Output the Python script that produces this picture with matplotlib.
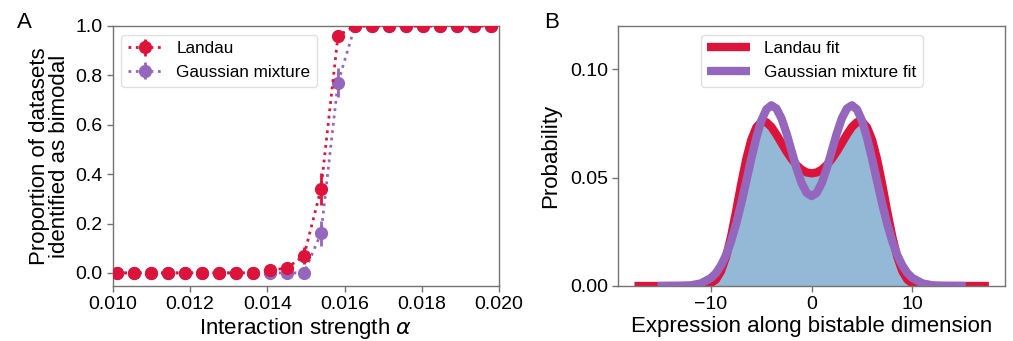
import matplotlib
matplotlib.use("Agg")
import matplotlib.pyplot as plt

plt.rcParams['font.family'] = ['Liberation Sans', 'DejaVu Sans']
plt.rcParams['mathtext.fontset'] = 'dejavusans'

# ---------------- Panel A data ----------------
alpha_vals = [0.01010, 0.01054, 0.01098, 0.01142, 0.01186, 0.01230, 0.01274,
              0.01319, 0.01363, 0.01407, 0.01451, 0.01495, 0.01539, 0.01583,
              0.01627, 0.01671, 0.01715, 0.01759, 0.01803, 0.01847, 0.01891,
              0.01935, 0.01980]
landau_prop = [0, 0, 0, 0, 0, 0, 0, 0, 0, 0.01, 0.02, 0.07, 0.34, 0.96,
               1, 1, 1, 1, 1, 1, 1, 1, 1]
landau_err = [0, 0, 0, 0, 0, 0, 0, 0, 0, 0.01, 0.015, 0.035, 0.065, 0.025,
              0, 0, 0, 0, 0, 0, 0, 0, 0]
gmm_prop = [0, 0, 0, 0, 0, 0, 0, 0, 0, 0, 0, 0, 0.16, 0.77,
            1, 1, 1, 1, 1, 1, 1, 1, 1]
gmm_err = [0, 0, 0, 0, 0, 0, 0, 0, 0, 0, 0, 0, 0.05, 0.058,
           0, 0, 0, 0, 0, 0, 0, 0, 0]

# ---------------- Panel B data ----------------
landau_x = [-17.6, -12, -11, -10, -9.5, -9, -8.5, -8, -7.5, -7, -6.5, -6, -5.5, -5,
            -4.5, -4, -3.5, -3, -2.5, -2, -1.5, -1, -0.5, 0, 0.5, 1, 1.5, 2,
            2.5, 3, 3.5, 4, 4.5, 5, 5.5, 6, 6.5, 7, 7.5, 8, 8.5, 9, 9.5, 10,
            11, 12, 17.6]
landau_fit = [0, 0, 0.0001, 0.0011, 0.0030, 0.0069, 0.0135, 0.0229, 0.0345, 0.0470,
              0.0584, 0.0674, 0.0732, 0.0758, 0.0756, 0.0734, 0.0699, 0.0660,
              0.0621, 0.0587, 0.0558, 0.0537, 0.0524, 0.0520, 0.0524, 0.0537,
              0.0558, 0.0587, 0.0621, 0.0660, 0.0699, 0.0734, 0.0756, 0.0758,
              0.0732, 0.0674, 0.0584, 0.0470, 0.0345, 0.0229, 0.0135, 0.0069,
              0.0030, 0.0011, 0.0001, 0, 0]

gmm_x = [-15.3, -13, -12, -11, -10, -9.5, -9, -8.5, -8, -7.5, -7, -6.5, -6, -5.5,
         -5, -4.5, -4, -3.5, -3, -2.5, -2, -1.5, -1, -0.5, 0, 0.5, 1, 1.5, 2,
         2.5, 3, 3.5, 4, 4.5, 5, 5.5, 6, 6.5, 7, 7.5, 8, 8.5, 9, 9.5, 10, 11,
         12, 13, 15.3]
gmm_fit = [0, 0.0001, 0.0003, 0.0012, 0.0037, 0.0060, 0.0095, 0.0143, 0.0207,
           0.0287, 0.0380, 0.0483, 0.0587, 0.0684, 0.0763, 0.0815, 0.0834,
           0.0819, 0.0774, 0.0705, 0.0624, 0.0543, 0.0475, 0.0430, 0.0415,
           0.0430, 0.0475, 0.0543, 0.0624, 0.0705, 0.0774, 0.0819, 0.0834,
           0.0815, 0.0763, 0.0684, 0.0587, 0.0483, 0.0380, 0.0287, 0.0207,
           0.0143, 0.0095, 0.0060, 0.0037, 0.0012, 0.0003, 0.0001, 0]

hist_x = [-9.6, -9, -8.5, -8, -7.5, -7, -6.5, -6, -5.5, -5, -4.5, -4, -3.5, -3,
          -2.5, -2, -1.5, -1, -0.5, 0, 0.5, 1, 1.5, 2, 2.5, 3, 3.5, 4, 4.5, 5,
          5.5, 6, 6.5, 7, 7.5, 8, 8.5, 9, 9.6]
hist_density = [0, 0.0055, 0.0125, 0.0220, 0.0340, 0.0465, 0.0580, 0.0668,
                0.0722, 0.0745, 0.0745, 0.0725, 0.0690, 0.0652, 0.0612, 0.0578,
                0.0550, 0.0528, 0.0512, 0.0508, 0.0512, 0.0528, 0.0550, 0.0578,
                0.0612, 0.0652, 0.0690, 0.0725, 0.0745, 0.0745, 0.0722, 0.0668,
                0.0580, 0.0465, 0.0340, 0.0220, 0.0125, 0.0055, 0]

RED = '#dc143c'
PURPLE = '#9467bd'
BLUE = '#93b9d6'
SPINE = '0.45'

fig = plt.figure(figsize=(10.13, 3.41), dpi=100)
axA = fig.add_axes([0.1115, 0.1613, 0.381, 0.7625])
axB = fig.add_axes([0.6104, 0.1613, 0.3817, 0.7625])

for ax in (axA, axB):
    for s in ax.spines.values():
        s.set_color(SPINE)
        s.set_linewidth(1.0)
    ax.tick_params(axis='both', colors=SPINE, labelcolor='black',
                   labelsize=14, length=4, width=1)

# Panel A
hg = axA.errorbar(alpha_vals, gmm_prop, yerr=gmm_err, color=PURPLE,
                  ls=':', lw=2, marker='o', ms=8.5, elinewidth=2, capsize=0,
                  label='Gaussian mixture', zorder=2)
hl = axA.errorbar(alpha_vals, landau_prop, yerr=landau_err, color=RED,
                  ls=':', lw=2, marker='o', ms=8.5, elinewidth=2, capsize=0,
                  label='Landau', zorder=3)
axA.set_xlim(0.010, 0.020)
axA.set_ylim(-0.053, 1.0)
axA.set_xticks([0.010, 0.012, 0.014, 0.016, 0.018, 0.020])
axA.set_xticklabels(['0.010', '0.012', '0.014', '0.016', '0.018', '0.020'])
axA.set_yticks([0.0, 0.2, 0.4, 0.6, 0.8, 1.0])
axA.set_yticklabels(['0.0', '0.2', '0.4', '0.6', '0.8', '1.0'])
axA.set_xlabel(r'Interaction strength $\alpha$', fontsize=16, labelpad=2)
axA.set_ylabel('Proportion of datasets\nidentified as bimodal', fontsize=16,
               labelpad=4, linespacing=0.95)
axA.legend([hl, hg], ['Landau', 'Gaussian mixture'], loc='upper left',
           fontsize=12.3, frameon=True, edgecolor='0.85')

# Panel B
axB.fill_between(hist_x, 0, hist_density, color=BLUE, lw=0, zorder=1)
axB.plot(landau_x, landau_fit, color=RED, lw=6, label='Landau fit', zorder=2,
         solid_capstyle='butt')
axB.plot(gmm_x, gmm_fit, color=PURPLE, lw=6, label='Gaussian mixture fit',
         zorder=3, solid_capstyle='butt')
axB.set_xlim(-19.2, 19.2)
axB.set_ylim(0, 0.12)
axB.set_xticks([-10, 0, 10])
axB.set_yticks([0.0, 0.05, 0.10])
axB.set_yticklabels(['0.00', '0.05', '0.10'])
axB.set_xlabel('Expression along bistable dimension', fontsize=16, labelpad=2)
axB.set_ylabel('Probability', fontsize=16, labelpad=6)
axB.legend(loc='upper center', fontsize=12.3, handlelength=2.5,
           frameon=True, edgecolor='0.85')

fig.text(0.017, 0.935, 'A', fontsize=16, va='center', ha='left')
fig.text(0.537, 0.935, 'B', fontsize=16, va='center', ha='left')

fig.savefig('out.png', dpi=100)
